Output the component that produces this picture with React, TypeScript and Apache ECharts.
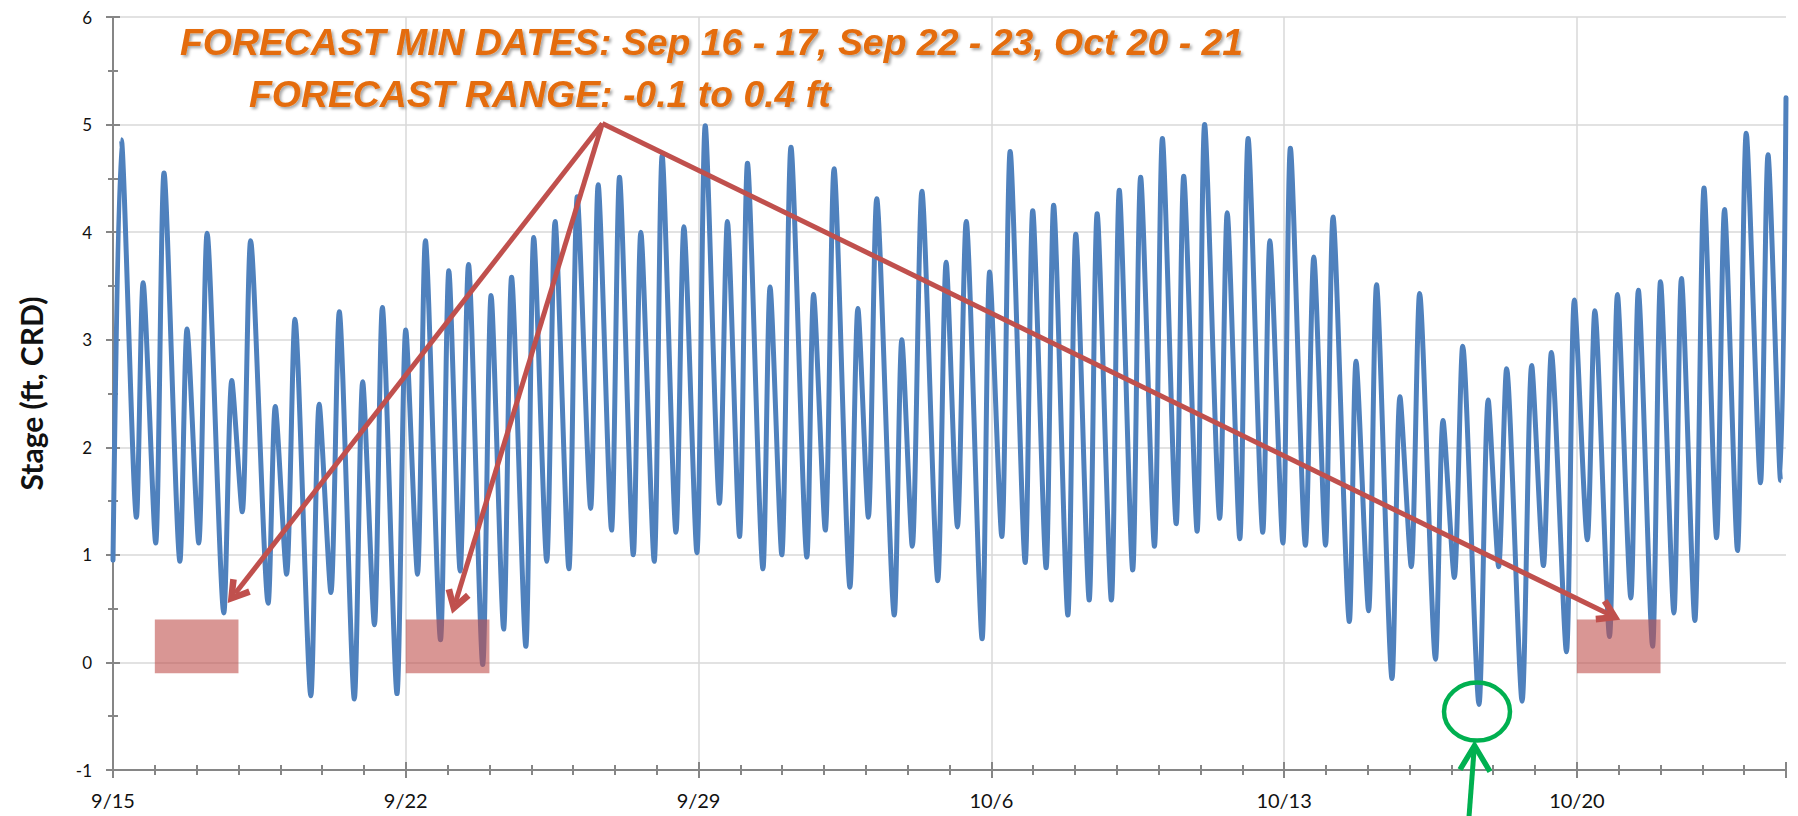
import React, { useEffect, useRef } from 'react';
import * as echarts from 'echarts';

// Tide extremes: days since 9/15 00:00, stage (ft, CRD)
const tideDays = [
  0.0, 0.2, 0.56, 0.72, 1.02, 1.22, 1.6, 1.77, 2.05, 2.25, 2.65, 2.84, 3.09, 3.29, 3.71, 3.88,
  4.15, 4.35, 4.73, 4.93, 5.21, 5.41, 5.77, 5.97, 6.25, 6.44, 6.79, 7.0, 7.28, 7.47, 7.83, 8.03,
  8.3, 8.5, 8.84, 9.04, 9.34, 9.53, 9.87, 10.06, 10.37, 10.57, 10.9, 11.1, 11.42, 11.6, 11.92, 12.11,
  12.44, 12.62, 12.94, 13.13, 13.46, 13.65, 13.96, 14.16, 14.5, 14.69, 14.98, 15.17, 15.54, 15.71,
  15.99, 16.21, 16.59, 16.75, 17.03, 17.24, 17.62, 17.81, 18.06, 18.26, 18.68, 18.86, 19.11, 19.34,
  19.72, 19.92, 20.19, 20.4, 20.78, 20.96, 21.25, 21.45, 21.81, 21.99, 22.31, 22.49, 22.83, 23.02,
  23.34, 23.53, 23.87, 24.06, 24.38, 24.57, 24.9, 25.09, 25.42, 25.6, 25.92, 26.1, 26.46, 26.64,
  26.94, 27.14, 27.49, 27.66, 27.97, 28.15, 28.51, 28.71, 28.99, 29.17, 29.56, 29.72, 30.02, 30.21,
  30.58, 30.77, 31.04, 31.24, 31.62, 31.8, 32.07, 32.27, 32.66, 32.88, 33.13, 33.32, 33.69, 33.92,
  34.2, 34.39, 34.75, 34.94, 35.25, 35.43, 35.78, 35.97, 36.29, 36.47, 36.81, 37.0, 37.32, 37.5,
  37.82, 38.04, 38.34, 38.53, 38.84, 39.05, 39.39, 39.57, 39.87, 40.0,
];
const stageFt = [
  0.95, 4.86, 1.35, 3.53, 1.11, 4.55, 0.94, 3.1, 1.11, 3.99, 0.46, 2.62, 1.4, 3.92, 0.55, 2.38,
  0.82, 3.19, -0.31, 2.4, 0.65, 3.26, -0.34, 2.61, 0.35, 3.3, -0.29, 3.09, 0.82, 3.92, 0.21, 3.64,
  0.85, 3.7, -0.02, 3.41, 0.31, 3.58, 0.15, 3.95, 0.94, 4.1, 0.87, 4.33, 1.43, 4.44, 1.23, 4.51,
  1.0, 4.0, 0.94, 4.71, 1.21, 4.05, 1.02, 4.99, 1.48, 4.1, 1.17, 4.64, 0.87, 3.49,
  1.0, 4.79, 0.98, 3.42, 1.23, 4.59, 0.7, 3.29, 1.35, 4.31, 0.44, 3.0, 1.08, 4.38,
  0.76, 3.72, 1.26, 4.1, 0.22, 3.63, 1.17, 4.75, 0.93, 4.2, 0.88, 4.25, 0.44, 3.98,
  0.58, 4.17, 0.58, 4.39, 0.86, 4.51, 1.08, 4.87, 1.29, 4.52, 1.22, 5.0, 1.34, 4.18,
  1.15, 4.87, 1.21, 3.92, 1.11, 4.78, 1.09, 3.77, 1.09, 4.14, 0.38, 2.8, 0.48, 3.51,
  -0.15, 2.47, 0.89, 3.43, 0.03, 2.25, 0.79, 2.94, -0.39, 2.44, 0.89, 2.73, -0.36, 2.76,
  0.9, 2.88, 0.1, 3.37, 1.14, 3.27, 0.24, 3.42, 0.6, 3.46, 0.15, 3.54, 0.46, 3.57,
  0.39, 4.41, 1.16, 4.21, 1.04, 4.92, 1.67, 4.72, 1.69, 5.25,
];

const weekLabels = ['9/15', '9/22', '9/29', '10/6', '10/13', '10/20'];
const dayRange = [0, 40];
const stageRange = [-1, 6];

// Forecast minimum windows (day ranges) and forecast stage range
const forecastWindows = [
  [1, 3],
  [7, 9],
  [35, 37],
];
const forecastRange = [-0.1, 0.4];

// Arrow annotation: common start and the three end points (days, ft)
const arrowApex = [11.7, 5.01];
const arrowEnds = [
  [2.92, 0.64],
  [8.19, 0.56],
  [35.78, 0.445],
];
// Observed minimum highlighted in green (days, ft)
const observedMin = [32.66, -0.42];

const titleLines = [
  'FORECAST MIN DATES: Sep 16 - 17, Sep 22 - 23, Oct 20 - 21',
  'FORECAST RANGE: -0.1 to 0.4 ft',
];
const yAxisTitle = 'Stage (ft, CRD)';

const AXIS_GRAY = '#868686';
const GRID_GRAY = '#D9D9D9';
const BLUE = '#4F81BD';
const RED = '#C0504D';
const GREEN = '#00B050';
const ORANGE = '#E46C0A';
const LABEL_FONT = 'Lato, "Open Sans", sans-serif';

export default function App() {
  const ref = useRef<HTMLDivElement>(null);

  useEffect(() => {
    if (!ref.current) return;
    const chart = echarts.init(ref.current, null, { renderer: 'svg' });

    const seriesData = tideDays.map((d, i) => [d, stageFt[i]]);
    const tickStyle = { color: AXIS_GRAY, width: 2 };

    const baseX = (extra: any) => ({
      type: 'value',
      min: dayRange[0],
      max: dayRange[1],
      position: 'bottom',
      axisLine: { show: false, onZero: false },
      axisLabel: { show: false },
      splitLine: { show: false },
      ...extra,
    });
    const baseY = (extra: any) => ({
      type: 'value',
      min: stageRange[0],
      max: stageRange[1],
      interval: 1,
      position: 'left',
      axisLine: { show: false, onZero: false },
      axisLabel: { show: false },
      splitLine: { show: false },
      ...extra,
    });

    const arrowSymbol = 'path://M10,0 L20,16 L15.6,18.6 L10,9.2 L4.4,18.6 L0,16 Z';

    const titleStyle = {
      fontFamily: '"Liberation Sans", Arial, sans-serif',
      fontSize: 37.4,
      fontWeight: 'bold',
      fontStyle: 'italic',
      fill: ORANGE,
      verticalAlign: 'middle',
      align: 'left',
      textShadowColor: 'rgba(0,0,0,0.35)',
      textShadowBlur: 3,
      textShadowOffsetX: 2,
      textShadowOffsetY: 2,
    };

    chart.setOption({
      animation: false,
      backgroundColor: '#ffffff',
      grid: { left: 113, top: 17, right: 12, bottom: 46, containLabel: false },
      xAxis: [
        baseX({
          interval: 1,
          axisLine: { show: true, onZero: false, lineStyle: tickStyle },
          axisTick: { show: true, length: 5, lineStyle: tickStyle },
        }),
        baseX({
          interval: 1,
          axisTick: { show: true, inside: true, length: 5, lineStyle: tickStyle },
        }),
        baseX({
          interval: 7,
          axisTick: { show: true, length: 8, lineStyle: tickStyle },
          axisLabel: {
            show: true,
            margin: 20,
            fontSize: 20,
            fontFamily: LABEL_FONT,
            color: '#111',
            formatter: (v: number) => {
              const idx = Math.round(v / 7);
              return Math.abs(v - idx * 7) < 1e-6 && idx < weekLabels.length ? weekLabels[idx] : '';
            },
          },
          splitLine: {
            show: true,
            showMinLine: false,
            showMaxLine: false,
            lineStyle: { color: GRID_GRAY, width: 1.5 },
          },
        }),
        baseX({
          interval: 7,
          axisTick: { show: true, inside: true, length: 8, lineStyle: tickStyle },
        }),
      ],
      yAxis: [
        baseY({
          axisLine: { show: true, onZero: false, lineStyle: tickStyle },
          axisTick: { show: true, length: 7, lineStyle: tickStyle },
          minorTick: { show: true, splitNumber: 2, length: 5, lineStyle: tickStyle },
          axisLabel: { show: true, fontSize: 17, fontFamily: LABEL_FONT, color: '#111', margin: 21 },
          splitLine: { show: true, lineStyle: { color: GRID_GRAY, width: 1.5 } },
          name: yAxisTitle,
          nameLocation: 'middle',
          nameGap: 67,
          nameTextStyle: { fontSize: 30, fontWeight: 'bold', fontFamily: LABEL_FONT, color: '#111' },
        }),
        baseY({
          axisTick: { show: true, inside: true, length: 7, lineStyle: tickStyle },
          minorTick: { show: true, splitNumber: 2, length: 5, lineStyle: tickStyle },
        }),
      ],
      series: [
        {
          type: 'line',
          name: 'Stage',
          xAxisIndex: 0,
          yAxisIndex: 0,
          data: seriesData,
          symbol: 'none',
          showSymbol: false,
          smooth: 0.25,
          silent: true,
          z: 2,
          lineStyle: { color: BLUE, width: 5, cap: 'round', join: 'round' },
        },
        {
          type: 'line',
          name: 'annotations',
          xAxisIndex: 0,
          yAxisIndex: 0,
          data: [],
          z: 5,
          silent: true,
          markArea: {
            silent: true,
            z: 8,
            itemStyle: { color: 'rgba(192,80,77,0.6)' },
            data: forecastWindows.map(([a, b]) => [
              { coord: [a, forecastRange[1]] },
              { coord: [b, forecastRange[0]] },
            ]),
          },
          markLine: {
            silent: true,
            z: 9,
            symbol: ['none', arrowSymbol],
            symbolSize: [26, 24],
            label: { show: false },
            emphasis: { disabled: true },
            lineStyle: { color: RED, width: 5, type: 'solid', opacity: 1 },
            itemStyle: { color: RED },
            data: arrowEnds.map((e) => [{ coord: arrowApex }, { coord: e }]),
          },
        },
      ],
    });

    const [mx, my] = chart.convertToPixel({ xAxisIndex: 0, yAxisIndex: 0 }, observedMin) as number[];
    const tipY = my + 37;

    chart.setOption({
      graphic: [
        { type: 'text', x: 180, y: 42, z: 100, style: { text: titleLines[0], ...titleStyle } },
        { type: 'text', x: 249, y: 94, z: 100, style: { text: titleLines[1], ...titleStyle } },
        {
          type: 'ellipse',
          z: 100,
          shape: { cx: mx - 2, cy: my + 4, rx: 33, ry: 29 },
          style: { fill: 'none', stroke: GREEN, lineWidth: 4.5 },
        },
        {
          type: 'line',
          z: 100,
          shape: { x1: mx - 11, y1: 830, x2: mx - 5, y2: tipY + 6 },
          style: { stroke: GREEN, lineWidth: 5 },
        },
        {
          type: 'polyline',
          z: 100,
          shape: {
            points: [
              [mx - 19, tipY + 25],
              [mx - 4.5, tipY + 1],
              [mx + 11, tipY + 27],
            ],
          },
          style: { stroke: GREEN, lineWidth: 5.5, fill: 'none', lineJoin: 'miter' },
        },
      ],
    });

    return () => chart.dispose();
  }, []);

  return (
    <div
      ref={ref}
      style={{ position: 'absolute', left: 0, top: 0, width: 1798, height: 816, background: '#fff' }}
    />
  );
}
